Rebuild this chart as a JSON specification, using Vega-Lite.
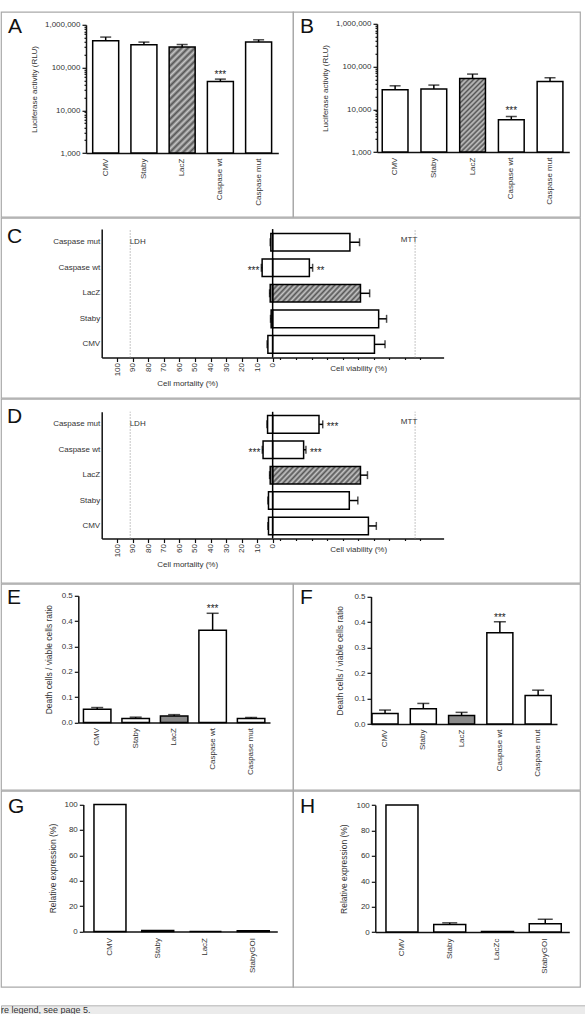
{
  "$schema": "https://vega.github.io/schema/vega-lite/v6.json",
  "description": "Multi-panel bar figure: luciferase activity (A, B), LDH/MTT cell mortality and viability (C, D), death/viable cell ratios (E, F) and relative expression (G, H).",
  "background": "white",
  "padding": {"left": 0, "top": 10.8, "right": 0, "bottom": 0},
  "datasets": {
    "lucA": [
      {"cat": "CMV", "value": 422000, "hi": 516000},
      {"cat": "Staby", "value": 341000, "hi": 394000},
      {"cat": "LacZ", "value": 301000, "hi": 346000},
      {"cat": "Caspase wt", "value": 47200, "hi": 53700, "sig": "***"},
      {"cat": "Caspase mut", "value": 394000, "hi": 446000}
    ],
    "lucB": [
      {"cat": "CMV", "value": 28600, "hi": 35500},
      {"cat": "Staby", "value": 29700, "hi": 36900},
      {"cat": "LacZ", "value": 52600, "hi": 66700},
      {"cat": "Caspase wt", "value": 5690, "hi": 6800, "sig": "***"},
      {"cat": "Caspase mut", "value": 44800, "hi": 54600}
    ],
    "viaC": [
      {"cat": "Caspase mut", "ldh": 1.2, "ldhHi": 1.6, "mtt": 49.7, "mttHi": 55.9},
      {"cat": "Caspase wt", "ldh": 6.8, "ldhHi": 7.3, "ldhSig": "***", "mtt": 23.6, "mttHi": 25.7, "mttSig": "**"},
      {"cat": "LacZ", "ldh": 1.6, "ldhHi": 2.0, "mtt": 56.5, "mttHi": 62.4},
      {"cat": "Staby", "ldh": 1.0, "ldhHi": 1.4, "mtt": 68.2, "mttHi": 73.3},
      {"cat": "CMV", "ldh": 3.1, "ldhHi": 3.6, "mtt": 65.5, "mttHi": 72.3}
    ],
    "viaD": [
      {"cat": "Caspase mut", "ldh": 3.3, "ldhHi": 3.7, "mtt": 29.8, "mttHi": 32.2, "mttSig": "***"},
      {"cat": "Caspase wt", "ldh": 6.2, "ldhHi": 6.7, "ldhSig": "***", "mtt": 19.9, "mttHi": 21.4, "mttSig": "***"},
      {"cat": "LacZ", "ldh": 1.6, "ldhHi": 2.0, "mtt": 56.5, "mttHi": 61.0},
      {"cat": "Staby", "ldh": 2.7, "ldhHi": 3.1, "mtt": 49.3, "mttHi": 54.8},
      {"cat": "CMV", "ldh": 2.7, "ldhHi": 3.1, "mtt": 61.6, "mttHi": 66.7}
    ],
    "ratioE": [
      {"cat": "CMV", "value": 0.052, "hi": 0.059},
      {"cat": "Staby", "value": 0.016, "hi": 0.021},
      {"cat": "LacZ", "value": 0.026, "hi": 0.031},
      {"cat": "Caspase wt", "value": 0.364, "hi": 0.431, "sig": "***"},
      {"cat": "Caspase mut", "value": 0.016, "hi": 0.020}
    ],
    "ratioF": [
      {"cat": "CMV", "value": 0.042, "hi": 0.055},
      {"cat": "Staby", "value": 0.060, "hi": 0.081},
      {"cat": "LacZ", "value": 0.034, "hi": 0.046},
      {"cat": "Caspase wt", "value": 0.358, "hi": 0.401, "sig": "***"},
      {"cat": "Caspase mut", "value": 0.112, "hi": 0.133}
    ],
    "exprG": [
      {"cat": "CMV", "value": 100},
      {"cat": "Staby", "value": 0.8},
      {"cat": "LacZ", "value": 0},
      {"cat": "StabyGOI", "value": 0.6}
    ],
    "exprH": [
      {"cat": "CMV", "value": 100},
      {"cat": "Staby", "value": 6.0},
      {"cat": "LacZc", "value": 0.4},
      {"cat": "StabyGOI", "value": 6.6}
    ],
    "errH": [
      {"cat": "Staby", "value": 6.0, "hi": 7.3},
      {"cat": "StabyGOI", "value": 6.6, "hi": 10.2}
    ],
    "caption": [{"note": "re legend, see page 5."}]
  },
  "vconcat": [
    {
      "spacing": -2.4,
      "vconcat": [
        {
          "spacing": 0,
          "bounds": "flush",
          "hconcat": [
            {
              "title": {"text": "A", "offset": -25, "dx": 7},
              "width": 292, "height": 205,
              "data": {"name": "lucA"},
              "encoding": {
                "x": {"field": "cat", "type": "nominal", "sort": ["CMV", "Staby", "LacZ", "Caspase wt", "Caspase mut"],
                  "scale": {"range": [85, 277.3], "paddingInner": 0.32, "paddingOuter": 0.175},
                  "axis": {"title": null, "offset": -63.7, "labelAngle": -90, "ticks": false, "labelPadding": 5}}
              },
              "layer": [
                {
                  "mark": {"type": "bar", "stroke": "black", "strokeWidth": 1.5},
                  "encoding": {
                    "y": {"field": "value", "type": "quantitative",
                      "scale": {"type": "log", "domain": [1000, 1000000], "range": [141.3, 13]},
                      "axis": {"title": "Luciferase activity (RLU)", "offset": -85,
                        "values": [1000, 2000, 3000, 4000, 5000, 6000, 7000, 8000, 9000, 10000, 20000, 30000, 40000, 50000, 60000, 70000, 80000, 90000, 100000, 200000, 300000, 400000, 500000, 600000, 700000, 800000, 900000, 1000000],
                        "format": ",",
                        "labelExpr": "indexof([1000, 10000, 100000, 1000000], datum.value) >= 0 ? datum.label : ''",
                        "tickSize": {"condition": {"test": "indexof([1000, 10000, 100000, 1000000], datum.value) < 0", "value": 2}, "value": 4},
                        "labelOverlap": false, "titlePadding": 6}},
                    "y2": {"datum": 1000},
                    "fill": {"condition": {"test": "datum.cat === 'LacZ'", "value": {"gradient": "linear", "x1": 0, "y1": 0, "x2": 0.289, "y2": 1.178, "stops": [{"offset":0,"color":"#555"},{"offset":0.025,"color":"#c6c6c6"},{"offset":0.05,"color":"#555"},{"offset":0.075,"color":"#c6c6c6"},{"offset":0.1,"color":"#555"},{"offset":0.125,"color":"#c6c6c6"},{"offset":0.15,"color":"#555"},{"offset":0.175,"color":"#c6c6c6"},{"offset":0.2,"color":"#555"},{"offset":0.225,"color":"#c6c6c6"},{"offset":0.25,"color":"#555"},{"offset":0.275,"color":"#c6c6c6"},{"offset":0.3,"color":"#555"},{"offset":0.325,"color":"#c6c6c6"},{"offset":0.35,"color":"#555"},{"offset":0.375,"color":"#c6c6c6"},{"offset":0.4,"color":"#555"},{"offset":0.425,"color":"#c6c6c6"},{"offset":0.45,"color":"#555"},{"offset":0.475,"color":"#c6c6c6"},{"offset":0.5,"color":"#555"},{"offset":0.525,"color":"#c6c6c6"},{"offset":0.55,"color":"#555"},{"offset":0.575,"color":"#c6c6c6"},{"offset":0.6,"color":"#555"},{"offset":0.625,"color":"#c6c6c6"},{"offset":0.65,"color":"#555"},{"offset":0.675,"color":"#c6c6c6"},{"offset":0.7,"color":"#555"},{"offset":0.725,"color":"#c6c6c6"},{"offset":0.75,"color":"#555"},{"offset":0.775,"color":"#c6c6c6"},{"offset":0.8,"color":"#555"},{"offset":0.825,"color":"#c6c6c6"},{"offset":0.85,"color":"#555"},{"offset":0.875,"color":"#c6c6c6"},{"offset":0.9,"color":"#555"},{"offset":0.925,"color":"#c6c6c6"},{"offset":0.95,"color":"#555"},{"offset":0.975,"color":"#c6c6c6"},{"offset":1,"color":"#555"}]}}, "value": "white"}
                  }
                },
                {"mark": {"type": "rule", "color": "black", "strokeWidth": 1.5},
                 "encoding": {"y": {"field": "value", "type": "quantitative"}, "y2": {"field": "hi"}}},
                {"mark": {"type": "tick", "color": "black", "thickness": 1.5, "size": 11},
                 "encoding": {"y": {"field": "hi", "type": "quantitative"}}},
                {"transform": [{"filter": "datum.sig"}],
                 "mark": {"type": "text", "fontSize": 10, "baseline": "alphabetic", "dy": -1, "color": "#222"},
                 "encoding": {"y": {"field": "hi", "type": "quantitative"}, "text": {"field": "sig"}}}
              ]
            },
            {
              "title": {"text": "B", "offset": -25, "dx": 7},
              "width": 287, "height": 205,
              "data": {"name": "lucB"},
              "encoding": {
                "x": {"field": "cat", "type": "nominal", "sort": ["CMV", "Staby", "LacZ", "Caspase wt", "Caspase mut"],
                  "scale": {"range": [84, 276.3], "paddingInner": 0.335, "paddingOuter": 0.15, "align": 0.45},
                  "axis": {"title": null, "offset": -64.7, "labelAngle": -90, "ticks": false, "labelPadding": 5}}
              },
              "layer": [
                {
                  "mark": {"type": "bar", "stroke": "black", "strokeWidth": 1.5},
                  "encoding": {
                    "y": {"field": "value", "type": "quantitative",
                      "scale": {"type": "log", "domain": [1000, 1000000], "range": [140.3, 12]},
                      "axis": {"title": "Luciferase activity (RLU)", "offset": -84,
                        "values": [1000, 2000, 3000, 4000, 5000, 6000, 7000, 8000, 9000, 10000, 20000, 30000, 40000, 50000, 60000, 70000, 80000, 90000, 100000, 200000, 300000, 400000, 500000, 600000, 700000, 800000, 900000, 1000000],
                        "format": ",",
                        "labelExpr": "indexof([1000, 10000, 100000, 1000000], datum.value) >= 0 ? datum.label : ''",
                        "tickSize": {"condition": {"test": "indexof([1000, 10000, 100000, 1000000], datum.value) < 0", "value": 2}, "value": 4},
                        "labelOverlap": false, "titlePadding": 6}},
                    "y2": {"datum": 1000},
                    "fill": {"condition": {"test": "datum.cat === 'LacZ'", "value": {"gradient": "linear", "x1": 0, "y1": 0, "x2": 0.422, "y2": 1.203, "stops": [{"offset":0,"color":"#555"},{"offset":0.025,"color":"#c6c6c6"},{"offset":0.05,"color":"#555"},{"offset":0.075,"color":"#c6c6c6"},{"offset":0.1,"color":"#555"},{"offset":0.125,"color":"#c6c6c6"},{"offset":0.15,"color":"#555"},{"offset":0.175,"color":"#c6c6c6"},{"offset":0.2,"color":"#555"},{"offset":0.225,"color":"#c6c6c6"},{"offset":0.25,"color":"#555"},{"offset":0.275,"color":"#c6c6c6"},{"offset":0.3,"color":"#555"},{"offset":0.325,"color":"#c6c6c6"},{"offset":0.35,"color":"#555"},{"offset":0.375,"color":"#c6c6c6"},{"offset":0.4,"color":"#555"},{"offset":0.425,"color":"#c6c6c6"},{"offset":0.45,"color":"#555"},{"offset":0.475,"color":"#c6c6c6"},{"offset":0.5,"color":"#555"},{"offset":0.525,"color":"#c6c6c6"},{"offset":0.55,"color":"#555"},{"offset":0.575,"color":"#c6c6c6"},{"offset":0.6,"color":"#555"},{"offset":0.625,"color":"#c6c6c6"},{"offset":0.65,"color":"#555"},{"offset":0.675,"color":"#c6c6c6"},{"offset":0.7,"color":"#555"},{"offset":0.725,"color":"#c6c6c6"},{"offset":0.75,"color":"#555"},{"offset":0.775,"color":"#c6c6c6"},{"offset":0.8,"color":"#555"},{"offset":0.825,"color":"#c6c6c6"},{"offset":0.85,"color":"#555"},{"offset":0.875,"color":"#c6c6c6"},{"offset":0.9,"color":"#555"},{"offset":0.925,"color":"#c6c6c6"},{"offset":0.95,"color":"#555"},{"offset":0.975,"color":"#c6c6c6"},{"offset":1,"color":"#555"}]}}, "value": "white"}
                  }
                },
                {"mark": {"type": "rule", "color": "black", "strokeWidth": 1.5},
                 "encoding": {"y": {"field": "value", "type": "quantitative"}, "y2": {"field": "hi"}}},
                {"mark": {"type": "tick", "color": "black", "thickness": 1.5, "size": 11},
                 "encoding": {"y": {"field": "hi", "type": "quantitative"}}},
                {"transform": [{"filter": "datum.sig"}],
                 "mark": {"type": "text", "fontSize": 10, "baseline": "alphabetic", "dy": -2, "color": "#222"},
                 "encoding": {"y": {"field": "hi", "type": "quantitative"}, "text": {"field": "sig"}}}
              ]
            }
          ]
        },
        {
          "title": {"text": "C", "offset": -29, "dx": 6},
          "width": 579, "height": 180,
          "data": {"name": "viaC"},
          "layer": [
            {
              "encoding": {"y": {"field": "cat", "type": "nominal", "sort": ["Caspase mut", "Caspase wt", "LacZ", "Staby", "CMV"],
                "scale": {"range": [11.3, 139.7], "paddingInner": 0.31, "paddingOuter": 0.17},
                "axis": {"title": null, "offset": -100.7, "ticks": false, "labelPadding": 2}}},
              "layer": [
                {"mark": {"type": "bar", "stroke": "black", "strokeWidth": 1.5},
                 "encoding": {
                   "x": {"field": "ldh", "type": "quantitative", "scale": {"domain": [0, 105], "range": [271.7, 100.7]},
                     "axis": {"title": "Cell mortality (%)", "orient": "bottom", "offset": -40.3,
                       "values": [0, 5, 10, 15, 20, 25, 30, 35, 40, 45, 50, 55, 60, 65, 70, 75, 80, 85, 90, 95, 100],
                       "labelExpr": "datum.value % 10 === 0 ? datum.label : ''",
                       "tickSize": {"condition": {"test": "datum.value % 10 !== 0", "value": 2}, "value": 4},
                       "labelAngle": -90, "labelPadding": 1, "titlePadding": 4}},
                   "x2": {"datum": 0},
                   "fill": {"condition": {"test": "datum.cat === 'LacZ'", "value": "#8a8a8a"}, "value": "white"}}},
                {"mark": {"type": "rule", "color": "black", "strokeWidth": 1.5},
                 "encoding": {"x": {"field": "ldh", "type": "quantitative"}, "x2": {"field": "ldhHi"}}},
                {"mark": {"type": "tick", "color": "black", "thickness": 1.5, "size": 8},
                 "encoding": {"x": {"field": "ldhHi", "type": "quantitative"}}},
                {"transform": [{"filter": "datum.ldhSig"}],
                 "mark": {"type": "text", "align": "right", "baseline": "alphabetic", "dx": -2, "dy": 6, "fontSize": 10, "color": "#222"},
                 "encoding": {"x": {"field": "ldhHi", "type": "quantitative"}, "text": {"field": "ldhSig"}}},
                {"data": {"values": [{"assay": "LDH"}]},
                 "mark": {"type": "text", "align": "left", "baseline": "middle", "fontSize": 8, "color": "#333"},
                 "encoding": {"x": {"datum": 92}, "y": {"datum": "Caspase mut"}, "text": {"field": "assay"}}}
              ]
            },
            {
              "encoding": {"y": {"field": "cat", "type": "nominal", "sort": ["Caspase mut", "Caspase wt", "LacZ", "Staby", "CMV"],
                "scale": {"range": [11.3, 139.7], "paddingInner": 0.31, "paddingOuter": 0.17}, "axis": null}},
              "layer": [
                {"mark": {"type": "bar", "stroke": "black", "strokeWidth": 1.5},
                 "encoding": {
                   "x": {"field": "mtt", "type": "quantitative", "scale": {"domain": [0, 105], "range": [271.7, 442.6]},
                     "axis": {"title": "Cell viability (%)", "orient": "bottom", "offset": -40.3,
                       "values": [5, 10, 15, 20, 25, 30, 35, 40, 45, 50, 55, 60, 65, 70, 75, 80, 85, 90, 95, 100],
                       "labelExpr": "datum.value % 10 === 0 ? datum.label : ''",
                       "tickSize": {"condition": {"test": "datum.value % 10 !== 0", "value": 2}, "value": 4},
                       "labelAngle": -90, "labelPadding": 1, "titlePadding": 4}},
                   "x2": {"datum": 0},
                   "fill": {"condition": {"test": "datum.cat === 'LacZ'", "value": {"gradient": "linear", "x1": 0, "y1": 0, "x2": 1.149, "y2": 0.218, "stops": [{"offset":0,"color":"#555"},{"offset":0.025,"color":"#c6c6c6"},{"offset":0.05,"color":"#555"},{"offset":0.075,"color":"#c6c6c6"},{"offset":0.1,"color":"#555"},{"offset":0.125,"color":"#c6c6c6"},{"offset":0.15,"color":"#555"},{"offset":0.175,"color":"#c6c6c6"},{"offset":0.2,"color":"#555"},{"offset":0.225,"color":"#c6c6c6"},{"offset":0.25,"color":"#555"},{"offset":0.275,"color":"#c6c6c6"},{"offset":0.3,"color":"#555"},{"offset":0.325,"color":"#c6c6c6"},{"offset":0.35,"color":"#555"},{"offset":0.375,"color":"#c6c6c6"},{"offset":0.4,"color":"#555"},{"offset":0.425,"color":"#c6c6c6"},{"offset":0.45,"color":"#555"},{"offset":0.475,"color":"#c6c6c6"},{"offset":0.5,"color":"#555"},{"offset":0.525,"color":"#c6c6c6"},{"offset":0.55,"color":"#555"},{"offset":0.575,"color":"#c6c6c6"},{"offset":0.6,"color":"#555"},{"offset":0.625,"color":"#c6c6c6"},{"offset":0.65,"color":"#555"},{"offset":0.675,"color":"#c6c6c6"},{"offset":0.7,"color":"#555"},{"offset":0.725,"color":"#c6c6c6"},{"offset":0.75,"color":"#555"},{"offset":0.775,"color":"#c6c6c6"},{"offset":0.8,"color":"#555"},{"offset":0.825,"color":"#c6c6c6"},{"offset":0.85,"color":"#555"},{"offset":0.875,"color":"#c6c6c6"},{"offset":0.9,"color":"#555"},{"offset":0.925,"color":"#c6c6c6"},{"offset":0.95,"color":"#555"},{"offset":0.975,"color":"#c6c6c6"},{"offset":1,"color":"#555"}]}}, "value": "white"}}},
                {"mark": {"type": "rule", "color": "black", "strokeWidth": 1.5},
                 "encoding": {"x": {"field": "mtt", "type": "quantitative"}, "x2": {"field": "mttHi"}}},
                {"mark": {"type": "tick", "color": "black", "thickness": 1.5, "size": 8},
                 "encoding": {"x": {"field": "mttHi", "type": "quantitative"}}},
                {"transform": [{"filter": "datum.mttSig"}],
                 "mark": {"type": "text", "align": "left", "baseline": "alphabetic", "dx": 4, "dy": 6, "fontSize": 10, "color": "#222"},
                 "encoding": {"x": {"field": "mttHi", "type": "quantitative"}, "text": {"field": "mttSig"}}},
                {"data": {"values": [{"assay": "MTT"}]},
                 "mark": {"type": "text", "align": "left", "baseline": "middle", "dy": -2.5, "fontSize": 8, "color": "#333"},
                 "encoding": {"x": {"datum": 82.5}, "y": {"datum": "Caspase mut"}, "text": {"field": "assay"}}}
              ]
            },
            {
              "layer": [
                {"data": {"values": [{"pos": -100}, {"pos": 100}]},
                 "mark": {"type": "rule", "color": "#8c8c8c", "strokeWidth": 1, "strokeDash": [1, 2]},
                 "encoding": {
                   "x": {"field": "pos", "type": "quantitative", "scale": {"domain": [-105, 105], "range": [100.7, 442.6]}, "axis": null},
                   "y": {"datum": 0, "type": "quantitative", "scale": {"domain": [0, 1], "range": [139.7, 11.3]}, "axis": null},
                   "y2": {"datum": 1}}},
                {"data": {"values": [{"pos": 0}]},
                 "mark": {"type": "rule", "color": "black", "strokeWidth": 1.5},
                 "encoding": {
                   "x": {"field": "pos", "type": "quantitative"},
                   "y": {"datum": 0, "type": "quantitative"},
                   "y2": {"datum": 1}}}
              ]
            }
          ],
          "resolve": {"scale": {"x": "independent", "y": "independent"}, "axis": {"x": "independent", "y": "independent"}}
        },
        {
          "title": {"text": "D", "offset": -28, "dx": 6},
          "width": 579, "height": 184,
          "data": {"name": "viaD"},
          "layer": [
            {
              "encoding": {"y": {"field": "cat", "type": "nominal", "sort": ["Caspase mut", "Caspase wt", "LacZ", "Staby", "CMV"],
                "scale": {"range": [13, 139.7], "paddingInner": 0.31, "paddingOuter": 0.15},
                "axis": {"title": null, "offset": -100.7, "ticks": false, "labelPadding": 2}}},
              "layer": [
                {"mark": {"type": "bar", "stroke": "black", "strokeWidth": 1.5},
                 "encoding": {
                   "x": {"field": "ldh", "type": "quantitative", "scale": {"domain": [0, 105], "range": [271.7, 100.7]},
                     "axis": {"title": "Cell mortality (%)", "orient": "bottom", "offset": -44.3,
                       "values": [0, 5, 10, 15, 20, 25, 30, 35, 40, 45, 50, 55, 60, 65, 70, 75, 80, 85, 90, 95, 100],
                       "labelExpr": "datum.value % 10 === 0 ? datum.label : ''",
                       "tickSize": {"condition": {"test": "datum.value % 10 !== 0", "value": 2}, "value": 4},
                       "labelAngle": -90, "labelPadding": 1, "titlePadding": 4}},
                   "x2": {"datum": 0},
                   "fill": {"condition": {"test": "datum.cat === 'LacZ'", "value": "#8a8a8a"}, "value": "white"}}},
                {"mark": {"type": "rule", "color": "black", "strokeWidth": 1.5},
                 "encoding": {"x": {"field": "ldh", "type": "quantitative"}, "x2": {"field": "ldhHi"}}},
                {"mark": {"type": "tick", "color": "black", "thickness": 1.5, "size": 8},
                 "encoding": {"x": {"field": "ldhHi", "type": "quantitative"}}},
                {"transform": [{"filter": "datum.ldhSig"}],
                 "mark": {"type": "text", "align": "right", "baseline": "alphabetic", "dx": -2, "dy": 6, "fontSize": 10, "color": "#222"},
                 "encoding": {"x": {"field": "ldhHi", "type": "quantitative"}, "text": {"field": "ldhSig"}}},
                {"data": {"values": [{"assay": "LDH"}]},
                 "mark": {"type": "text", "align": "left", "baseline": "middle", "fontSize": 8, "color": "#333"},
                 "encoding": {"x": {"datum": 92}, "y": {"datum": "Caspase mut"}, "text": {"field": "assay"}}}
              ]
            },
            {
              "encoding": {"y": {"field": "cat", "type": "nominal", "sort": ["Caspase mut", "Caspase wt", "LacZ", "Staby", "CMV"],
                "scale": {"range": [13, 139.7], "paddingInner": 0.31, "paddingOuter": 0.15}, "axis": null}},
              "layer": [
                {"mark": {"type": "bar", "stroke": "black", "strokeWidth": 1.5},
                 "encoding": {
                   "x": {"field": "mtt", "type": "quantitative", "scale": {"domain": [0, 105], "range": [271.7, 442.6]},
                     "axis": {"title": "Cell viability (%)", "orient": "bottom", "offset": -44.3,
                       "values": [5, 10, 15, 20, 25, 30, 35, 40, 45, 50, 55, 60, 65, 70, 75, 80, 85, 90, 95, 100],
                       "labelExpr": "datum.value % 10 === 0 ? datum.label : ''",
                       "tickSize": {"condition": {"test": "datum.value % 10 !== 0", "value": 2}, "value": 4},
                       "labelAngle": -90, "labelPadding": 1, "titlePadding": 4}},
                   "x2": {"datum": 0},
                   "fill": {"condition": {"test": "datum.cat === 'LacZ'", "value": {"gradient": "linear", "x1": 0, "y1": 0, "x2": 1.149, "y2": 0.218, "stops": [{"offset":0,"color":"#555"},{"offset":0.025,"color":"#c6c6c6"},{"offset":0.05,"color":"#555"},{"offset":0.075,"color":"#c6c6c6"},{"offset":0.1,"color":"#555"},{"offset":0.125,"color":"#c6c6c6"},{"offset":0.15,"color":"#555"},{"offset":0.175,"color":"#c6c6c6"},{"offset":0.2,"color":"#555"},{"offset":0.225,"color":"#c6c6c6"},{"offset":0.25,"color":"#555"},{"offset":0.275,"color":"#c6c6c6"},{"offset":0.3,"color":"#555"},{"offset":0.325,"color":"#c6c6c6"},{"offset":0.35,"color":"#555"},{"offset":0.375,"color":"#c6c6c6"},{"offset":0.4,"color":"#555"},{"offset":0.425,"color":"#c6c6c6"},{"offset":0.45,"color":"#555"},{"offset":0.475,"color":"#c6c6c6"},{"offset":0.5,"color":"#555"},{"offset":0.525,"color":"#c6c6c6"},{"offset":0.55,"color":"#555"},{"offset":0.575,"color":"#c6c6c6"},{"offset":0.6,"color":"#555"},{"offset":0.625,"color":"#c6c6c6"},{"offset":0.65,"color":"#555"},{"offset":0.675,"color":"#c6c6c6"},{"offset":0.7,"color":"#555"},{"offset":0.725,"color":"#c6c6c6"},{"offset":0.75,"color":"#555"},{"offset":0.775,"color":"#c6c6c6"},{"offset":0.8,"color":"#555"},{"offset":0.825,"color":"#c6c6c6"},{"offset":0.85,"color":"#555"},{"offset":0.875,"color":"#c6c6c6"},{"offset":0.9,"color":"#555"},{"offset":0.925,"color":"#c6c6c6"},{"offset":0.95,"color":"#555"},{"offset":0.975,"color":"#c6c6c6"},{"offset":1,"color":"#555"}]}}, "value": "white"}}},
                {"mark": {"type": "rule", "color": "black", "strokeWidth": 1.5},
                 "encoding": {"x": {"field": "mtt", "type": "quantitative"}, "x2": {"field": "mttHi"}}},
                {"mark": {"type": "tick", "color": "black", "thickness": 1.5, "size": 8},
                 "encoding": {"x": {"field": "mttHi", "type": "quantitative"}}},
                {"transform": [{"filter": "datum.mttSig"}],
                 "mark": {"type": "text", "align": "left", "baseline": "alphabetic", "dx": 4, "dy": 6, "fontSize": 10, "color": "#222"},
                 "encoding": {"x": {"field": "mttHi", "type": "quantitative"}, "text": {"field": "mttSig"}}},
                {"data": {"values": [{"assay": "MTT"}]},
                 "mark": {"type": "text", "align": "left", "baseline": "middle", "dy": -2.5, "fontSize": 8, "color": "#333"},
                 "encoding": {"x": {"datum": 82.5}, "y": {"datum": "Caspase mut"}, "text": {"field": "assay"}}}
              ]
            },
            {
              "layer": [
                {"data": {"values": [{"pos": -100}, {"pos": 100}]},
                 "mark": {"type": "rule", "color": "#8c8c8c", "strokeWidth": 1, "strokeDash": [1, 2]},
                 "encoding": {
                   "x": {"field": "pos", "type": "quantitative", "scale": {"domain": [-105, 105], "range": [100.7, 442.6]}, "axis": null},
                   "y": {"datum": 0, "type": "quantitative", "scale": {"domain": [0, 1], "range": [139.7, 13]}, "axis": null},
                   "y2": {"datum": 1}}},
                {"data": {"values": [{"pos": 0}]},
                 "mark": {"type": "rule", "color": "black", "strokeWidth": 1.5},
                 "encoding": {
                   "x": {"field": "pos", "type": "quantitative"},
                   "y": {"datum": 0, "type": "quantitative"},
                   "y2": {"datum": 1}}}
              ]
            }
          ],
          "resolve": {"scale": {"x": "independent", "y": "independent"}, "axis": {"x": "independent", "y": "independent"}}
        },
        {
          "spacing": 0,
          "bounds": "flush",
          "hconcat": [
            {
              "title": {"text": "E", "offset": -24, "dx": 6},
              "width": 292, "height": 206,
              "data": {"name": "ratioE"},
              "encoding": {
                "x": {"field": "cat", "type": "nominal", "sort": ["CMV", "Staby", "LacZ", "Caspase wt", "Caspase mut"],
                  "scale": {"range": [77.3, 269], "paddingInner": 0.286, "paddingOuter": 0.134},
                  "axis": {"title": null, "offset": -67.3, "labelAngle": -90, "ticks": false, "labelPadding": 5}}
              },
              "layer": [
                {
                  "mark": {"type": "bar", "stroke": "black", "strokeWidth": 1.5},
                  "encoding": {
                    "y": {"field": "value", "type": "quantitative",
                      "scale": {"domain": [0, 0.5], "range": [138.7, 12]},
                      "axis": {"title": "Death cells / viable cells ratio", "offset": -77.3,
                        "values": [0, 0.05, 0.1, 0.15, 0.2, 0.25, 0.3, 0.35, 0.4, 0.45, 0.5],
                        "labelExpr": "round(datum.value * 100) % 10 === 0 ? format(datum.value, '.1f') : ''",
                        "tickSize": {"condition": {"test": "round(datum.value * 100) % 10 !== 0", "value": 2}, "value": 4},
                        "labelOverlap": false, "titleFontSize": 8.5, "titlePadding": 8}},
                    "y2": {"datum": 0},
                    "fill": {"condition": {"test": "datum.cat === 'LacZ'", "value": "#8a8a8a"}, "value": "white"}
                  }
                },
                {"mark": {"type": "rule", "color": "black", "strokeWidth": 1.5},
                 "encoding": {"y": {"field": "value", "type": "quantitative"}, "y2": {"field": "hi"}}},
                {"mark": {"type": "tick", "color": "black", "thickness": 1.5, "size": 12},
                 "encoding": {"y": {"field": "hi", "type": "quantitative"}}},
                {"transform": [{"filter": "datum.sig"}],
                 "mark": {"type": "text", "fontSize": 10, "baseline": "alphabetic", "dy": -1, "color": "#222"},
                 "encoding": {"y": {"field": "hi", "type": "quantitative"}, "text": {"field": "sig"}}}
              ]
            },
            {
              "title": {"text": "F", "offset": -24, "dx": 7},
              "width": 287, "height": 206,
              "data": {"name": "ratioF"},
              "encoding": {
                "x": {"field": "cat", "type": "nominal", "sort": ["CMV", "Staby", "LacZ", "Caspase wt", "Caspase mut"],
                  "scale": {"range": [78, 264], "paddingInner": 0.32, "paddingOuter": 0.09, "align": 0.15},
                  "axis": {"title": null, "offset": -65.7, "labelAngle": -90, "ticks": false, "labelPadding": 5}}
              },
              "layer": [
                {
                  "mark": {"type": "bar", "stroke": "black", "strokeWidth": 1.5},
                  "encoding": {
                    "y": {"field": "value", "type": "quantitative",
                      "scale": {"domain": [0, 0.5], "range": [140.3, 12.7]},
                      "axis": {"title": "Death cells / viable cells ratio", "offset": -78,
                        "values": [0, 0.05, 0.1, 0.15, 0.2, 0.25, 0.3, 0.35, 0.4, 0.45, 0.5],
                        "labelExpr": "round(datum.value * 100) % 10 === 0 ? format(datum.value, '.1f') : ''",
                        "tickSize": {"condition": {"test": "round(datum.value * 100) % 10 !== 0", "value": 2}, "value": 4},
                        "labelOverlap": false, "titleFontSize": 8.5, "titlePadding": 9}},
                    "y2": {"datum": 0},
                    "fill": {"condition": {"test": "datum.cat === 'LacZ'", "value": "#8a8a8a"}, "value": "white"}
                  }
                },
                {"mark": {"type": "rule", "color": "black", "strokeWidth": 1.5},
                 "encoding": {"y": {"field": "value", "type": "quantitative"}, "y2": {"field": "hi"}}},
                {"mark": {"type": "tick", "color": "black", "thickness": 1.5, "size": 12},
                 "encoding": {"y": {"field": "hi", "type": "quantitative"}}},
                {"transform": [{"filter": "datum.sig"}],
                 "mark": {"type": "text", "fontSize": 10, "baseline": "alphabetic", "dy": -1, "color": "#222"},
                 "encoding": {"y": {"field": "hi", "type": "quantitative"}, "text": {"field": "sig"}}}
              ]
            }
          ]
        },
        {
          "spacing": 0,
          "bounds": "flush",
          "hconcat": [
            {
              "title": {"text": "G", "offset": -26, "dx": 7},
              "width": 292, "height": 196,
              "data": {"name": "exprG"},
              "encoding": {
                "x": {"field": "cat", "type": "nominal", "sort": ["CMV", "Staby", "LacZ", "StabyGOI"],
                  "scale": {"range": [82.3, 276.3], "paddingInner": 0.33, "paddingOuter": 0.196, "align": 0.57},
                  "axis": {"title": null, "offset": -55.3, "labelAngle": -90, "ticks": false, "labelPadding": 6}}
              },
              "layer": [
                {
                  "mark": {"type": "bar", "stroke": "black", "strokeWidth": 1.5, "fill": "white"},
                  "encoding": {
                    "y": {"field": "value", "type": "quantitative",
                      "scale": {"domain": [0, 100], "range": [140.7, 13.7]},
                      "axis": {"title": "Relative expression (%)", "offset": -82.3, "values": [0, 20, 40, 60, 80, 100],
                        "labelOverlap": false, "titleFontSize": 8.5, "titlePadding": 6}},
                    "y2": {"datum": 0}
                  }
                }
              ]
            },
            {
              "title": {"text": "H", "offset": -26, "dx": 7},
              "width": 287, "height": 196,
              "encoding": {
                "x": {"field": "cat", "type": "nominal", "sort": ["CMV", "Staby", "LacZc", "StabyGOI"],
                  "scale": {"range": [82.3, 276.3], "paddingInner": 0.33, "paddingOuter": 0.196, "align": 0.57},
                  "axis": {"title": null, "offset": -54.7, "labelAngle": -90, "ticks": false, "labelPadding": 6}}
              },
              "layer": [
                {
                  "data": {"name": "exprH"},
                  "mark": {"type": "bar", "stroke": "black", "strokeWidth": 1.5, "fill": "white"},
                  "encoding": {
                    "y": {"field": "value", "type": "quantitative",
                      "scale": {"domain": [0, 100], "range": [141.3, 14.3]},
                      "axis": {"title": "Relative expression (%)", "offset": -82.3, "values": [0, 20, 40, 60, 80, 100],
                        "labelOverlap": false, "titleFontSize": 8.5, "titlePadding": 7}},
                    "y2": {"datum": 0}
                  }
                },
                {
                  "data": {"name": "errH"},
                  "mark": {"type": "rule", "color": "black", "strokeWidth": 1.5},
                  "encoding": {
                    "y": {"field": "value", "type": "quantitative",
                      "axis": {"title": "Relative expression (%)", "offset": -82.3, "values": [0, 20, 40, 60, 80, 100],
                        "labelOverlap": false, "titleFontSize": 8.5, "titlePadding": 7}},
                    "y2": {"field": "hi"}}
                },
                {
                  "data": {"name": "errH"},
                  "mark": {"type": "tick", "color": "black", "thickness": 1.5, "size": 15},
                  "encoding": {
                    "y": {"field": "hi", "type": "quantitative",
                      "axis": {"title": "Relative expression (%)", "offset": -82.3, "values": [0, 20, 40, 60, 80, 100],
                        "labelOverlap": false, "titleFontSize": 8.5, "titlePadding": 7}}}
                }
              ]
            }
          ]
        }
      ]
    },
    {
      "width": 585, "height": 20,
      "view": {"fill": "#ebebeb", "stroke": "#b4b4b4", "strokeWidth": 1},
      "data": {"name": "caption"},
      "mark": {"type": "text", "align": "left", "baseline": "alphabetic", "fontSize": 9, "color": "#333"},
      "encoding": {
        "x": {"datum": 0, "type": "quantitative", "scale": {"domain": [0, 1]}, "axis": null},
        "y": {"datum": 0.61, "type": "quantitative", "scale": {"domain": [0, 1]}, "axis": null},
        "text": {"field": "note"}
      }
    }
  ],
  "spacing": 16.5,
  "config": {
    "font": "Liberation Sans",
    "view": {"stroke": "#a9a9a9", "strokeWidth": 1.2},
    "title": {"anchor": "start", "frame": "group", "fontSize": 21, "fontWeight": "normal", "baseline": "alphabetic", "color": "#111", "font": "Liberation Sans"},
    "axis": {
      "labelFont": "Liberation Sans", "titleFont": "Liberation Sans",
      "labelFontSize": 8, "titleFontSize": 8, "titleFontWeight": "normal",
      "labelColor": "#333", "titleColor": "#333",
      "domainColor": "#111", "domainWidth": 1.5,
      "tickColor": "#111", "tickWidth": 1.2, "tickSize": 4,
      "labelPadding": 2, "grid": false, "labelFlush": false, "labelOverlap": false
    },
    "text": {"font": "Liberation Sans"}
  }
}
